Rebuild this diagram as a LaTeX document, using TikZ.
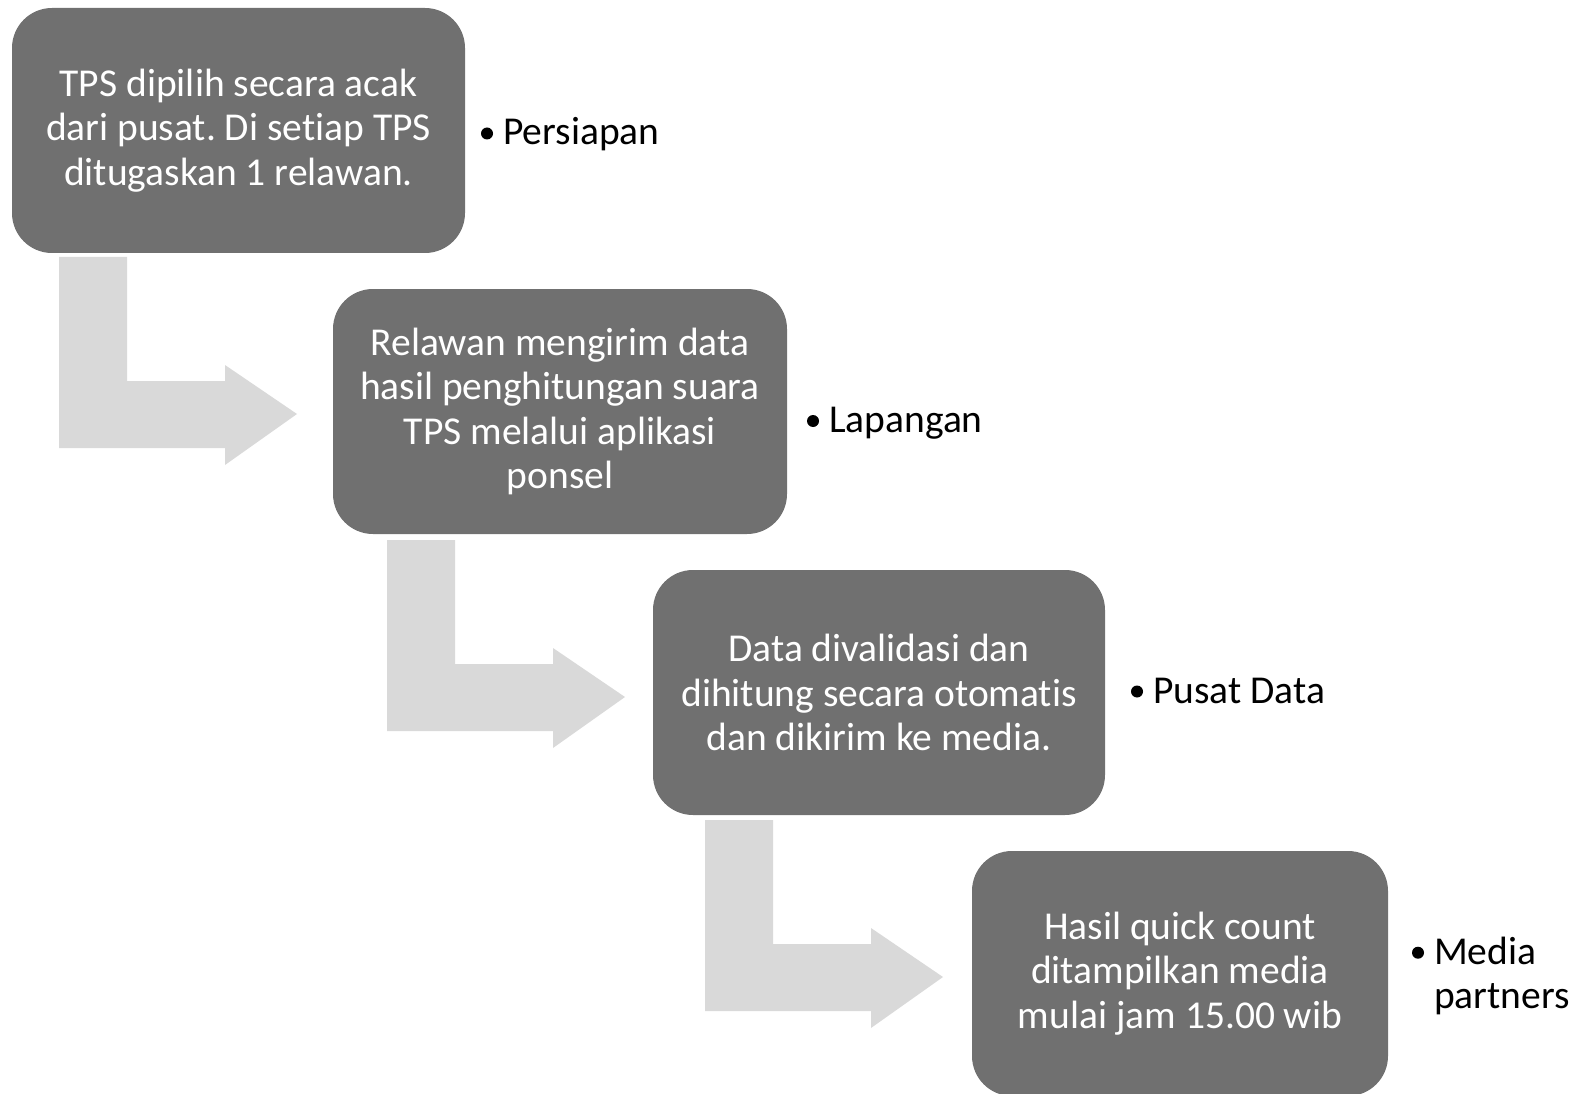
\documentclass[tikz,border=0pt]{standalone}
\usepackage{fontspec}
\setmainfont[Ligatures=NoCommon]{Carlito}
\frenchspacing
\usetikzlibrary{calc}

\definecolor{boxgray}{RGB}{112,112,112}
\definecolor{arrowgray}{RGB}{217,217,217}

\tikzset{
	box/.style={rectangle, rounded corners=40, fill=boxgray, text=white, align=center,
		minimum height=245, inner sep=0, font=\fontsize{39.5}{44.3}\selectfont},
	lab/.style={anchor=base west, inner sep=0, align=left, font=\fontsize{39.5}{44.3}\selectfont},
	dot/.style={circle, fill=black, minimum size=12, inner sep=0},
	bent/.style={fill=arrowgray}
}

\begin{document}
\begin{tikzpicture}[x=1pt,y=-1pt]

		\useasboundingbox (0,0) rectangle (1580,1094);
		
		% bent arrows
		\foreach \x/\y in {59/257, 387/540, 705/820}
		\fill [bent] (\x,\y) -- ++(68,0) -- ++(0,124) -- ++(98,0) -- ++(0,-16)
			-- ++(72,49) -- ++(-72,51) -- ++(0,-17) -- ++(-166,0) -- cycle;
		
		\node [box, minimum width=453] (S1) at (238.5,130.5) {TPS dipilih secara acak\\dari pusat. Di setiap TPS\\ditugaskan 1 relawan.};
		\node [box, minimum width=454] (S2) at (560,411.5) {Relawan mengirim data\\hasil penghitungan suara\\TPS melalui aplikasi\\ponsel};
		\node [box, minimum width=452] (S3) at (879,692.5) {Data divalidasi dan\\dihitung secara otomatis\\dan dikirim ke media.};
		\node [box, minimum width=416] (S4) at (1180,973.5) {Hasil quick count\\ditampilkan media\\mulai jam 15.00 wib};
		
		\node [lab] (L1) at (503,145) {Persiapan};
		\node [lab] (L2) at (829,432.5) {Lapangan};
		\node [lab] (L3) at (1153,703) {Pusat Data};
		\node [lab] (L4) at (1434,1008.5) {Media\\partners};
		
		\foreach \l in {L1,L2,L3}
		\node [dot] at ($(\l.base west)+(-16,-11.5)$) {};
		\node [dot] at ($(L4.base west)+(-16,-55.8)$) {};
		
\end{tikzpicture}
\end{document}
